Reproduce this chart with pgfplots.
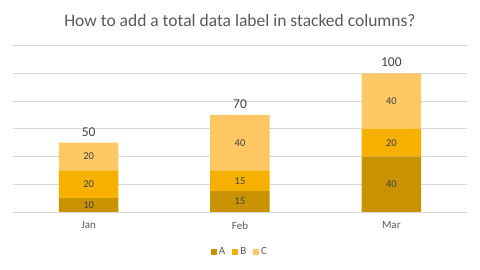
\documentclass[border=0pt]{standalone}
\usepackage{pgfplots}
\usepackage{pgfplotstable}
\pgfplotsset{compat=1.18}
\usepackage{fontspec}
\setmainfont{Carlito}
\definecolor{cA}{HTML}{C99300}
\definecolor{cB}{HTML}{F5B000}
\definecolor{cC}{HTML}{FFC864}
\definecolor{gridc}{HTML}{D9D9D9}
\definecolor{txt}{HTML}{595959}
\definecolor{lbl}{HTML}{404040}
\pgfplotstableread{
x A B C
0 10 20 20
1 15 15 40
2 40 20 40
}\datatable
\pgfplotsset{
  common/.style={
    at={(13pt,58pt)}, anchor=south west,
    scale only axis, width=454pt, height=166.3pt,
    xmin=-0.5, xmax=2.5, ymin=0, ymax=120,
    /pgf/number format/assume math mode=true,
  }
}
\begin{document}
\begin{tikzpicture}[x=1pt,y=1pt]
\useasboundingbox (0,0) rectangle (480,270);
\node[text=txt,font=\fontsize{17.5}{20}\selectfont] at (240,250) {How to add a total data label in stacked columns?};
\begin{axis}[
  common,
  ybar stacked, bar width=59.5pt,
  xtick={0,1,2}, xticklabels={Jan,Feb,Mar},
  ytick={0,20,40,60,80,100,120}, yticklabels={},
  major tick length=0pt,
  ymajorgrids, grid style={gridc, line width=0.8pt},
  axis lines*=left,
  y axis line style={draw=none},
  x axis line style={gridc, line width=0.8pt, -},
  xticklabel style={text=txt, font=\fontsize{11}{13}\selectfont, yshift=-6pt},
  legend style={at={(0.5,-0.24)}, anchor=center, draw=none, legend columns=-1,
     font=\fontsize{11}{13}\selectfont, text=txt,
     /tikz/every even column/.append style={column sep=5pt}},
  legend image code/.code={\fill[#1] (0pt,-3pt) rectangle (6pt,3pt);},
]
\addplot[fill=cA, draw=none] table[x=x, y=A] {\datatable};
\addplot[fill=cB, draw=none] table[x=x, y=B] {\datatable};
\addplot[fill=cC, draw=none] table[x=x, y=C] {\datatable};
\legend{A,B,C}
\end{axis}
\begin{axis}[
  common, hide axis,
  nodes near coords,
  point meta=explicit,
  every node near coord/.append style={anchor=center, text=lbl,
     font=\fontsize{10.5}{12}\selectfont},
]
\addplot[only marks, mark=none] table[x=x, y expr=\thisrow{A}/2, meta=A] {\datatable};
\addplot[only marks, mark=none] table[x=x, y expr=\thisrow{A}+\thisrow{B}/2, meta=B] {\datatable};
\addplot[only marks, mark=none] table[x=x, y expr=\thisrow{A}+\thisrow{B}+\thisrow{C}/2, meta=C] {\datatable};
\addplot[only marks, mark=none,
  every node near coord/.style={anchor=south, text=lbl, yshift=3pt,
     font=\fontsize{13.5}{15}\selectfont}]
  table[x=x, y expr=\thisrow{A}+\thisrow{B}+\thisrow{C}, meta expr=\thisrow{A}+\thisrow{B}+\thisrow{C}] {\datatable};
\end{axis}
\end{tikzpicture}
\end{document}
